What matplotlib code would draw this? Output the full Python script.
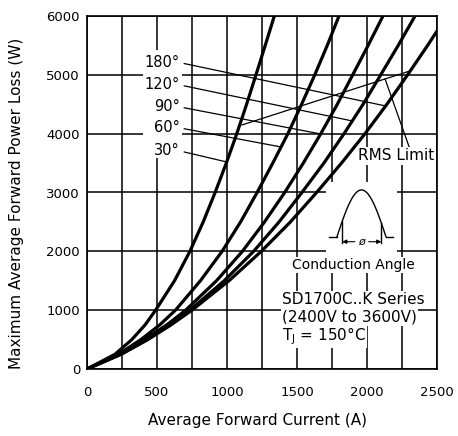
import numpy as np
import matplotlib.pyplot as plt
from matplotlib.ticker import MultipleLocator
from matplotlib.patches import Rectangle

# power loss levels (W) and the average current (A)
power_w = [0, 250, 500, 750, 1000, 1500, 2000, 2500, 3000, 3500, 4000, 4500, 5000, 5500, 6000]
i_30 = [0, 200, 320, 415, 490, 625, 735, 830, 915, 995, 1070, 1140, 1207, 1273, 1338]
i_60 = [0, 225, 385, 520, 632, 810, 965, 1097, 1215, 1327, 1435, 1533, 1627, 1716, 1800]
i_90 = [0, 235, 410, 570, 705, 925, 1110, 1268, 1412, 1545, 1670, 1788, 1898, 2008, 2114]
i_120 = [0, 240, 425, 595, 735, 980, 1190, 1372, 1535, 1692, 1836, 1972, 2098, 2223, 2343]
# 180 deg curve leaves the plot on the right edge
power_180 = [0, 250, 500, 750, 1000, 1500, 2000, 2500, 3000, 3500, 4000, 4500, 5000, 5500, 5745]
i_180 = [0, 245, 435, 600, 750, 1014, 1245, 1453, 1640, 1818, 1986, 2142, 2290, 2433, 2500]

angle_labels = ['180°', '120°', '90°', '60°', '30°']
# where each label sits (W) and where its leader meets the curve (W)
label_p = [5207, 4828, 4454, 4097, 3706]
leader_p = [4471, 4216, 3995, 3774, 3519]

# RMS limit line (A, W)
rms_i = [1107, 2307]
rms_p = [4148, 5066]

fig = plt.figure(figsize=(4.58, 4.36), dpi=100)
ax = fig.add_axes([87 / 458, 1 - 369 / 436, 350 / 458, 353 / 436])

ax.set_xlim(0, 2500)
ax.set_ylim(0, 6000)
ax.xaxis.set_major_locator(MultipleLocator(500))
ax.xaxis.set_minor_locator(MultipleLocator(250))
ax.yaxis.set_major_locator(MultipleLocator(1000))
ax.set_axisbelow(True)
ax.grid(True, which='both', color='black', lw=1.1)
ax.tick_params(which='both', length=0, labelsize=9.5)
ax.tick_params(axis='x', pad=12)
ax.tick_params(axis='y', pad=5)
for s in ax.spines.values():
    s.set_linewidth(1.2)

curves = [(i_180, power_180), (i_120, power_w), (i_90, power_w), (i_60, power_w), (i_30, power_w)]
for ci, cp in curves:
    ax.plot(ci, cp, color='black', lw=2.3, zorder=3, solid_capstyle='butt')

# white area behind the angle labels
ax.add_patch(Rectangle((400, 3587), 279, 1836, facecolor='white', edgecolor='none', zorder=1))

for lab, lp, ep, (ci, cp) in zip(angle_labels, label_p, leader_p, curves):
    ax.annotate(lab, xy=(np.interp(ep, cp, ci), ep), xytext=(664, lp),
                ha='right', va='center', fontsize=10.5, zorder=2,
                arrowprops=dict(arrowstyle='-', lw=0.9, color='black',
                                relpos=(1, 0.5), shrinkA=1, shrinkB=0))

ax.plot(rms_i, rms_p, color='black', lw=0.9, zorder=2)
ax.annotate('RMS Limit', xy=(2129, np.interp(2129, rms_i, rms_p)), xytext=(2207, 3621),
            ha='center', va='center', fontsize=11, zorder=4,
            bbox=dict(facecolor='white', edgecolor='none', pad=1),
            arrowprops=dict(arrowstyle='-', lw=0.9, color='black',
                            relpos=(0.68, 1.0), shrinkA=0, shrinkB=0))

# conduction angle sketch
ins = ax.inset_axes([1707, 1887, 507, 1292], transform=ax.transData, zorder=1.5)
ins.set_xlim(-0.706, 3.847)
ins.set_ylim(-0.455, 1.171)
ins.set_facecolor('white')
ins.set_xticks([])
ins.set_yticks([])
for s in ins.spines.values():
    s.set_visible(False)
th = np.linspace(0, np.pi, 100)
ins.plot(th, np.sin(th), color='black', lw=1.0)
ins.plot([-0.514, 0], [0, 0], color='black', lw=1.0)
ins.plot([np.pi, 3.592], [0, 0], color='black', lw=1.0)
a0, a1 = 0.34, np.pi - 0.30
ins.plot([a0, a0], [np.sin(a0), -0.13], color='black', lw=1.0)
ins.plot([a1, a1], [np.sin(a1), -0.13], color='black', lw=1.0)
mid = (a0 + a1) / 2
for end in (a0, a1):
    ins.annotate('', xy=(end, -0.107), xytext=(mid, -0.107),
                 arrowprops=dict(arrowstyle='-|>', lw=0.8, color='black',
                                 mutation_scale=6, shrinkA=5, shrinkB=0))
ins.text(mid, -0.107, 'ø', ha='center', va='center', fontsize=8, style='italic')

box = dict(facecolor='white', edgecolor='none', pad=1)
ax.text(1900, 1768, 'Conduction Angle', ha='center', va='center', fontsize=10, bbox=box)
ax.text(1393, 1173, 'SD1700C..K Series', ha='left', va='center', fontsize=11, bbox=box)
ax.text(1393, 884, '(2400V to 3600V)', ha='left', va='center', fontsize=11, bbox=box)
ax.text(1393, 561, r'T$_\mathregular{J}$ = 150°C', ha='left', va='center', fontsize=11, bbox=box)

ax.set_xlabel('Average Forward Current (A)', fontsize=11)
ax.set_ylabel('Maximum Average Forward Power Loss (W)', fontsize=11)
ax.xaxis.set_label_coords(0.486, -0.125)
ax.yaxis.set_label_coords(-0.18, 0.47)

fig.savefig('out.png', dpi=100)
